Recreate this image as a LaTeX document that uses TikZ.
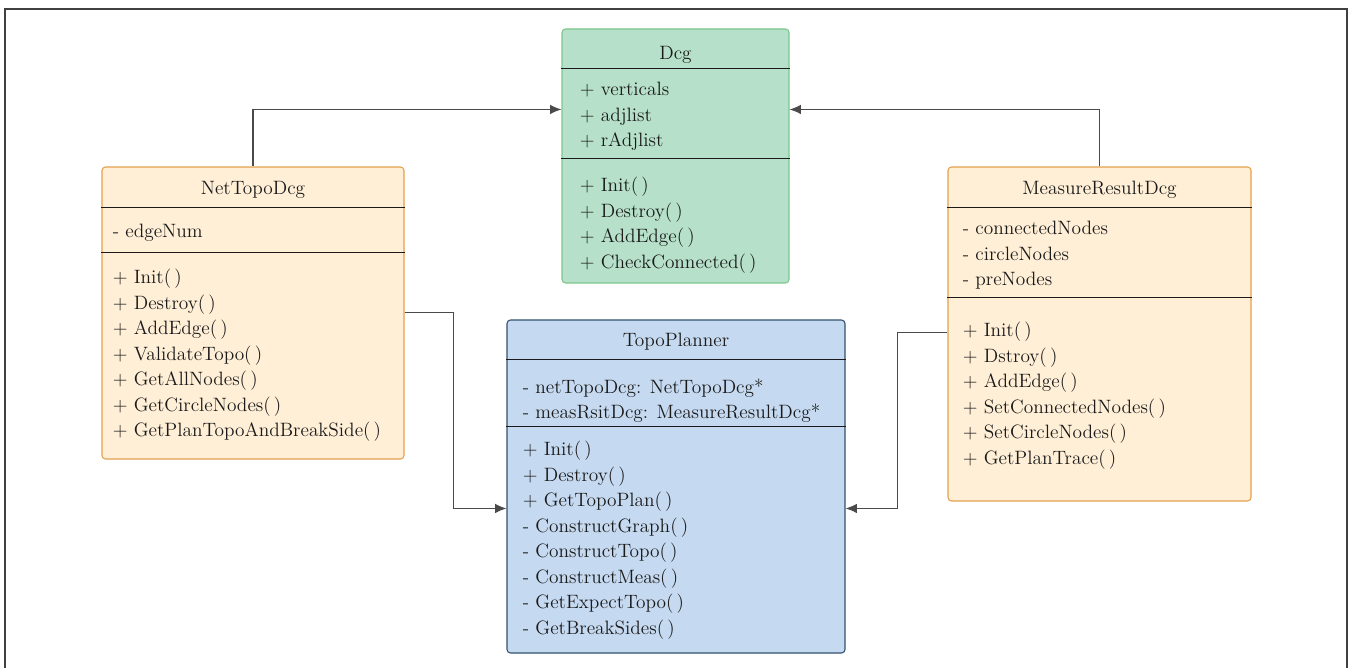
\documentclass[tikz,border=0pt]{standalone}
\usetikzlibrary{fit,calc,arrows.meta}

\definecolor{dcgfill}{HTML}{B6E0C9}
\definecolor{dcgline}{HTML}{7CC68C}
\definecolor{planfill}{HTML}{C5D9F0}
\definecolor{planline}{HTML}{34526F}
\definecolor{subfill}{HTML}{FFEFD7}
\definecolor{subline}{HTML}{E3A04D}
\definecolor{inkcol}{HTML}{1A1A1A}
\definecolor{wirecol}{HTML}{4A4A4A}

\tikzset{
  classbox/.style={draw, rounded corners=2pt, inner sep=0pt, line width=0.6pt},
  dcgbox/.style={classbox, draw=dcgline, fill=dcgfill},
  planbox/.style={classbox, draw=planline, fill=planfill},
  subbox/.style={classbox, draw=subline, fill=subfill},
  members/.style={inner sep=0pt, align=left, anchor=north west, text=inkcol,
    font=\fontsize{11}{14.5}\selectfont},
  classname/.style={inner sep=0pt, anchor=base, text=inkcol,
    font=\fontsize{11}{14.5}\selectfont},
  divider/.style={draw=inkcol, line width=0.6pt},
  link/.style={draw=wirecol, line width=0.7pt, -{Latex[length=6.5pt,width=5.5pt]}}
}

\begin{document}
\begin{tikzpicture}[x=0.02cm,y=-0.02cm]
\useasboundingbox (0,0) rectangle (1351,668);
\draw[black!75,line width=0.7pt] (5,668) -- (5,9) -- (1347,9) -- (1347,668);

% class boxes
\node[dcgbox, fit={(562,29) (789,283)}] (dcg) {};
\node[subbox, fit={(102,167) (404,459)}] (nettopo) {};
\node[planbox, fit={(507,320) (845,653)}] (planner) {};
\node[subbox, fit={(948,167) (1251,501)}] (measure) {};

% Dcg
\node[classname] (dcgname) at ($(dcg.north)+(0,31)$) {Dcg};
\draw[divider] ($(dcg.north west)+(0,40)$) -- ($(dcg.north east)+(0,40)$);
\node[members] (dcgattr) at ($(dcg.north west)+(18,53.6)$) {+ verticals\\+ adjlist\\+ rAdjlist};
\draw[divider] ($(dcg.north west)+(0,130)$) -- ($(dcg.north east)+(0,130)$);
\node[members] (dcgops) at ($(dcg.north west)+(18,148.5)$) {+ Init(\,)\\+ Destroy(\,)\\+ AddEdge(\,)\\+ CheckConnected(\,)};

% NetTopoDcg
\node[classname] (nettoponame) at ($(nettopo.north)+(0,28)$) {NetTopoDcg};
\draw[divider] ($(nettopo.north west)+(0,41)$) -- ($(nettopo.north east)+(0,41)$);
\node[members] (nettopoattr) at ($(nettopo.north west)+(11,57.6)$) {- edgeNum};
\draw[divider] ($(nettopo.north west)+(0,86)$) -- ($(nettopo.north east)+(0,86)$);
\node[members] (nettopoops) at ($(nettopo.north west)+(11,102.5)$) {+ Init(\,)\\+ Destroy(\,)\\+ AddEdge(\,)\\+ ValidateTopo(\,)\\+ GetAllNodes(\,)\\+ GetCircleNodes(\,)\\+ GetPlanTopoAndBreakSide(\,)};

% TopoPlanner
\node[classname] (plannername) at ($(planner.north)+(0,27)$) {TopoPlanner};
\draw[divider] ($(planner.north west)+(0,40)$) -- ($(planner.north east)+(0,40)$);
\node[members] (plannerattr) at ($(planner.north west)+(16,58.8)$) {- netTopoDcg: NetTopoDcg*\\- measRsitDcg: MeasureResultDcg*};
\draw[divider] ($(planner.north west)+(0,107)$) -- ($(planner.north east)+(0,107)$);
\node[members] (plannerops) at ($(planner.north west)+(16,121.5)$) {+ Init(\,)\\+ Destroy(\,)\\+ GetTopoPlan(\,)\\- ConstructGraph(\,)\\- ConstructTopo(\,)\\- ConstructMeas(\,)\\- GetExpectTopo(\,)\\- GetBreakSides(\,)};

% MeasureResultDcg
\node[classname] (measurename) at ($(measure.north)+(0,28)$) {MeasureResultDcg};
\draw[divider] ($(measure.north west)+(0,41)$) -- ($(measure.north east)+(0,41)$);
\node[members] (measureattr) at ($(measure.north west)+(15,54.6)$) {- connectedNodes\\- circleNodes\\- preNodes};
\draw[divider] ($(measure.north west)+(0,131)$) -- ($(measure.north east)+(0,131)$);
\node[members] (measureops) at ($(measure.north west)+(15,155.5)$) {+ Init(\,)\\+ Dstroy(\,)\\+ AddEdge(\,)\\+ SetConnectedNodes(\,)\\+ SetCircleNodes(\,)\\+ GetPlanTrace(\,)};

% links
\draw[link] (nettopo.north) |- ($(dcg.north west)+(0,81)$);
\draw[link] (measure.north) |- ($(dcg.north east)+(0,81)$);
\draw[link] ($(nettopo.north east)+(0,146)$) -- ++(49,0) |- ($(planner.north west)+(0,189)$);
\draw[link] ($(measure.north west)+(0,166)$) -- ++(-50,0) |- ($(planner.north east)+(0,189)$);
\end{tikzpicture}
\end{document}
